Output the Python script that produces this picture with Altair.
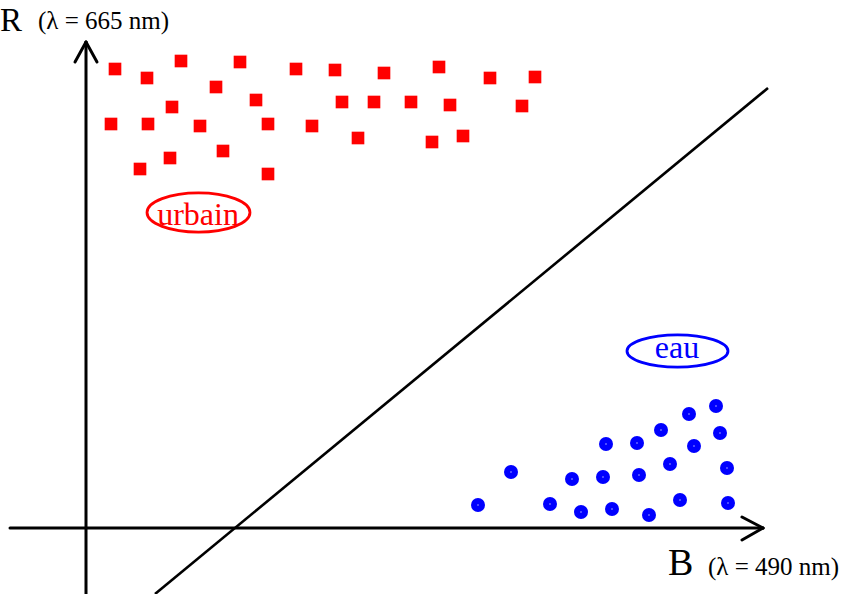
import altair as alt
import pandas as pd

# Chart coordinates: B along x, R along y (origin at the axes crossing)
urbain_B = [29, 61, 95, 154, 210, 249, 298, 353, 404, 449,
            130, 170, 86, 256, 288, 325, 364, 436,
            25, 62, 114, 182, 226, 272, 346, 377,
            54, 84, 137, 182]
urbain_R = [459, 450, 467, 466, 459, 458, 455, 461, 450, 451,
            441, 428, 421, 426, 426, 426, 423, 422,
            404, 404, 402, 404, 402, 390, 386, 392,
            359, 370, 377, 354]

eau_B = [392, 425, 464, 486, 495, 517, 520, 526, 551, 553,
         563, 575, 584, 594, 603, 608, 630, 634, 641, 642]
eau_R = [23, 56, 24, 49, 16, 51, 84, 19, 85, 53,
         13, 98, 64, 28, 114, 82, 122, 95, 60, 25]

# line segments: axes, arrow heads, separating line
seg_x1 = [-76, 0, -11, 11, 656, 656]
seg_y1 = [0, -66, 466, 466, 11, -12]
seg_x2 = [677, 0, 0, 0, 677, 677]
seg_y2 = [0, 486, 486, 486, 0, 0]
sep_x1, sep_y1, sep_x2, sep_y2 = [69], [-66], [682], [440]

axis_text = ["R", "(λ = 665 nm)", "B", "(λ = 490 nm)"]
axis_text_x = [-86, -48, 582, 622]
axis_text_y = [497, 499, -47, -47]
axis_text_size = [33, 25, 38, 25]

class_text = ["urbain", "eau"]
class_text_x = [112, 591]
class_text_y = [303, 170]
class_color = ["#ff0000", "#0000ff"]
ell_x = [112.5, 591.5]
ell_y = [315.5, 177]

FONT = "Liberation Serif"
xs = alt.Scale(domain=[-86, 761], nice=False, zero=False)
ys = alt.Scale(domain=[-66, 528], nice=False, zero=False)
X = lambda f: alt.X(f, type="quantitative", scale=xs, axis=None)
Y = lambda f: alt.Y(f, type="quantitative", scale=ys, axis=None)

sq = pd.DataFrame({"B": urbain_B, "R": urbain_R})
ci = pd.DataFrame({"B": eau_B, "R": eau_R})
seg = pd.DataFrame({"x1": seg_x1, "y1": seg_y1, "x2": seg_x2, "y2": seg_y2})
sep = pd.DataFrame({"x1": sep_x1, "y1": sep_y1, "x2": sep_x2, "y2": sep_y2})
at = pd.DataFrame({"t": axis_text, "x": axis_text_x, "y": axis_text_y, "s": axis_text_size})
ct = pd.DataFrame({"t": class_text, "x": class_text_x, "y": class_text_y, "c": class_color})
el_u = pd.DataFrame({"x": [ell_x[0]], "y": [ell_y[0]]})
el_e = pd.DataFrame({"x": [ell_x[1]], "y": [ell_y[1]]})

axes = alt.Chart(seg).mark_rule(color="black", strokeWidth=3, strokeCap="round").encode(
    x=X("x1"), y=Y("y1"), x2="x2", y2="y2")
sepline = alt.Chart(sep).mark_rule(color="black", strokeWidth=2.6).encode(
    x=X("x1"), y=Y("y1"), x2="x2", y2="y2")
squares = alt.Chart(sq).mark_point(shape="square", filled=True, opacity=1,
                                   color="#ff0000", size=160).encode(x=X("B"), y=Y("R"))
circles = alt.Chart(ci).mark_point(shape="circle", filled=True, opacity=1,
                                   color="#0000ff", size=196).encode(x=X("B"), y=Y("R"))
dots = alt.Chart(ci).mark_point(shape="circle", filled=True, opacity=0.8,
                                color="#ffffff", size=2).encode(x=X("B"), y=Y("R"))
ellipse_u = alt.Chart(el_u).mark_point(
    shape="M -1 0 A 1 0.38 0 1 1 1 0 A 1 0.38 0 1 1 -1 0 Z",
    filled=False, color="#ff0000", strokeWidth=2.8, opacity=1, size=10600).encode(
    x=X("x"), y=Y("y"))
ellipse_e = alt.Chart(el_e).mark_point(
    shape="M -1 0 A 1 0.32 0 1 1 1 0 A 1 0.32 0 1 1 -1 0 Z",
    filled=False, color="#0000ff", strokeWidth=2.8, opacity=1, size=10200).encode(
    x=X("x"), y=Y("y"))
atext = alt.Chart(at).mark_text(font=FONT, align="left", baseline="alphabetic",
                                color="black").encode(
    x=X("x"), y=Y("y"), text="t:N", size=alt.Size("s:Q", scale=None, legend=None))
ctext = alt.Chart(ct).mark_text(font=FONT, align="center", baseline="alphabetic",
                                fontSize=32).encode(
    x=X("x"), y=Y("y"), text="t:N", color=alt.Color("c:N", scale=None, legend=None))

chart = alt.layer(axes, sepline, squares, circles, dots, ellipse_u, ellipse_e,
                  atext, ctext).properties(
    width=847, height=594, padding=0, autosize=alt.AutoSizeParams(type="none"),
    background="white"
).configure_view(stroke=None)

chart.save("out.html", embed_options={"renderer": "svg", "actions": False})
